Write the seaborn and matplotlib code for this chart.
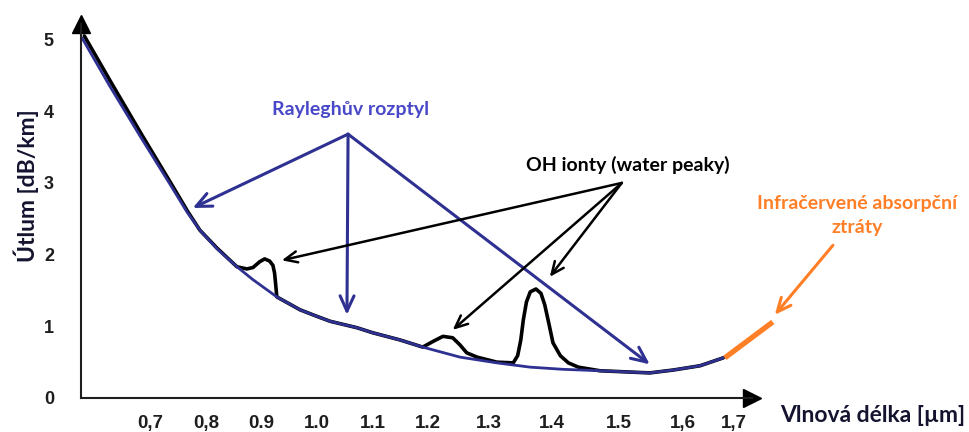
import numpy as np
import pandas as pd
import seaborn as sns
import matplotlib.pyplot as plt

# Rayleighuv rozptyl - vlnova delka [um] a utlum [dB/km]
rayleigh_wl = [0.576, 0.626, 0.681, 0.735, 0.766, 0.789, 0.820, 0.856, 0.885, 0.928,
               0.970, 1.000, 1.024, 1.072, 1.100, 1.149, 1.190, 1.252, 1.312, 1.365,
               1.416, 1.471, 1.548, 1.585, 1.634, 1.679]
rayleigh_db = [5.02, 4.35, 3.65, 2.98, 2.59, 2.34, 2.08, 1.83, 1.65, 1.41,
               1.23, 1.14, 1.07, 0.98, 0.91, 0.81, 0.71, 0.57, 0.49, 0.43,
               0.40, 0.38, 0.35, 0.39, 0.45, 0.56]

# celkovy utlum s OH piky
total_wl = [0.580, 0.630, 0.684, 0.737, 0.767, 0.789, 0.820, 0.856, 0.874, 0.885,
            0.897, 0.906, 0.915, 0.921, 0.924, 0.926, 0.928, 0.970, 1.000, 1.024,
            1.072, 1.100, 1.149, 1.190, 1.208, 1.224, 1.240, 1.252, 1.263, 1.280,
            1.312, 1.338, 1.345, 1.350, 1.354, 1.359, 1.365, 1.374, 1.382, 1.388,
            1.395, 1.401, 1.412, 1.424, 1.439, 1.471, 1.548, 1.585, 1.634, 1.679]
total_db = [5.05, 4.38, 3.67, 2.99, 2.60, 2.34, 2.09, 1.83, 1.80, 1.82,
            1.90, 1.94, 1.91, 1.85, 1.74, 1.58, 1.41, 1.23, 1.14, 1.07,
            0.98, 0.91, 0.81, 0.71, 0.79, 0.86, 0.84, 0.74, 0.63, 0.57,
            0.50, 0.49, 0.59, 0.81, 1.09, 1.34, 1.48, 1.52, 1.46, 1.30,
            1.02, 0.77, 0.59, 0.49, 0.43, 0.38, 0.35, 0.39, 0.45, 0.56]

# infracervene absorpcni ztraty
ir_wl = [1.682, 1.776]
ir_db = [0.56, 1.06]

tick_wl = [0.7, 0.8, 0.9, 1.0, 1.1, 1.2, 1.3, 1.4, 1.5, 1.6, 1.7]
tick_labels = ['0,7', '0,8', '0.9', '1.0', '1.1', '1.2', '1.3', '1.4', '1.5', '1,6', '1,7']
y_ticks = [0, 1, 2, 3, 4, 5]

# nelinearni osa x z puvodniho obrazku (vlnova delka -> pozice)
scale_wl = [0.5, 0.6, 0.7, 0.8, 0.9, 1.0, 1.1, 1.2, 1.3, 1.4, 1.5, 1.6, 1.7, 1.8, 1.9]
scale_pos = [40, 95.4, 150.7, 206, 261.3, 316.7, 372.7, 428.3, 489.3, 552.3, 619.3,
             682.7, 734, 785, 836]


def warp(x, xs, ys):
    x = np.asarray(x, dtype=float)
    y = np.interp(x, xs, ys)
    y = np.where(x < xs[0], ys[0] + (x - xs[0]) * (ys[1] - ys[0]) / (xs[1] - xs[0]), y)
    y = np.where(x > xs[-1], ys[-1] + (x - xs[-1]) * (ys[-1] - ys[-2]) / (xs[-1] - xs[-2]), y)
    return y


def fwd(x):
    return warp(x, scale_wl, scale_pos)


def inv(p):
    return warp(p, scale_pos, scale_wl)


NAVY = '#2e3192'
BLUE_TXT = '#4848c8'
ORANGE = '#ff7f27'
DARK = '#1e1e1e'

sns.set_style('white')
plt.rcParams['font.family'] = ['Liberation Sans', 'DejaVu Sans']
ann_font = ['Lato', 'DejaVu Sans']

W, H = 969, 432
fig = plt.figure(figsize=(W / 100, H / 100), dpi=100)
left_px, right_px, top_px, base_px = 81, 752, 24, 398
ax = fig.add_axes([left_px / W, 1 - base_px / H, (right_px - left_px) / W, (base_px - top_px) / H])

df_r = pd.DataFrame({'wl': rayleigh_wl, 'db': rayleigh_db})
df_t = pd.DataFrame({'wl': total_wl, 'db': total_db})
df_ir = pd.DataFrame({'wl': ir_wl, 'db': ir_db})

sns.lineplot(data=df_t, x='wl', y='db', ax=ax, color='black', lw=2.6, sort=False,
             solid_joinstyle='round')
sns.lineplot(data=df_r, x='wl', y='db', ax=ax, color=NAVY, lw=2.0, sort=False,
             solid_joinstyle='round')
sns.lineplot(data=df_ir, x='wl', y='db', ax=ax, color=ORANGE, lw=3.8, sort=False,
             solid_capstyle='butt', clip_on=False)

ax.set_xscale('function', functions=(fwd, inv))
ax.set_xlim(float(inv(left_px)), float(inv(right_px)))
ax.set_ylim(0, (base_px - top_px) / 71.7)
ax.set_xticks(tick_wl)
ax.set_xticklabels(tick_labels)
ax.set_yticks(y_ticks)
ax.set_xlabel('')
ax.set_ylabel('')
ax.minorticks_off()

for s in ['top', 'right']:
    ax.spines[s].set_visible(False)
for s in ['left', 'bottom']:
    ax.spines[s].set_color(DARK)
    ax.spines[s].set_linewidth(1.5)

ax.tick_params(axis='x', direction='out', length=11, width=1.5, color=DARK, pad=1.5,
               labelsize=13.5, labelcolor=DARK)
ax.tick_params(axis='y', direction='out', length=7.5, width=1.5, color=DARK, pad=12,
               labelsize=13, labelcolor=DARK)
for lab in ax.get_xticklabels() + ax.get_yticklabels():
    lab.set_fontweight('bold')

# sipky na koncich os
ax.plot(1, 0, '>', color='black', ms=13, transform=ax.transAxes, clip_on=False)
ax.plot(0, 1, '^', color='black', ms=13, transform=ax.transAxes, clip_on=False)

fig.text(26 / W, 1 - 186 / H, 'Útlum [dB/km]', rotation=90, ha='center', va='center',
         fontsize=16.5, fontweight='bold', family=ann_font, color='#141430')
fig.text(873 / W, 1 - 416 / H, 'Vlnová délka [µm]', ha='center', va='center',
         fontsize=16.5, fontweight='bold', family=ann_font, color='#141430')

# Rayleighuv rozptyl
apex_r = (1.056, 3.68)
for tip in [(0.776, 2.65), (1.054, 1.16), (1.548, 0.47)]:
    ax.annotate('', xy=tip, xytext=apex_r, annotation_clip=False,
                arrowprops=dict(arrowstyle='->,head_length=1.1,head_width=0.5', color=NAVY,
                                lw=2.2, shrinkA=0, shrinkB=0))
ax.text(1.061, 4.02, 'Rayleghův rozptyl', ha='center', va='center', fontsize=14,
        fontweight='bold', family=ann_font, color=BLUE_TXT)

# OH ionty
apex_oh = (1.504, 3.0)
for tip in [(0.937, 1.92), (1.24, 0.95), (1.396, 1.69)]:
    ax.annotate('', xy=tip, xytext=apex_oh, annotation_clip=False,
                arrowprops=dict(arrowstyle='->,head_length=0.9,head_width=0.4', color='black',
                                lw=1.8, shrinkA=0, shrinkB=0))
ax.text(1.514, 3.25, 'OH ionty (water peaky)', ha='center', va='center', fontsize=14,
        fontweight='bold', family=ann_font, color='black')

# infracervene ztraty
ax.annotate('', xy=(1.78, 1.16), xytext=(1.894, 2.13), annotation_clip=False,
            arrowprops=dict(arrowstyle='->,head_length=1.0,head_width=0.45', color=ORANGE,
                            lw=2.2, shrinkA=0, shrinkB=0))
ax.text(1.941, 2.55, 'Infračervené absorpční\nztráty', ha='center', va='center', fontsize=14,
        fontweight='bold', family=ann_font, color=ORANGE, linespacing=1.5, clip_on=False)

fig.savefig('out.png', dpi=100)
